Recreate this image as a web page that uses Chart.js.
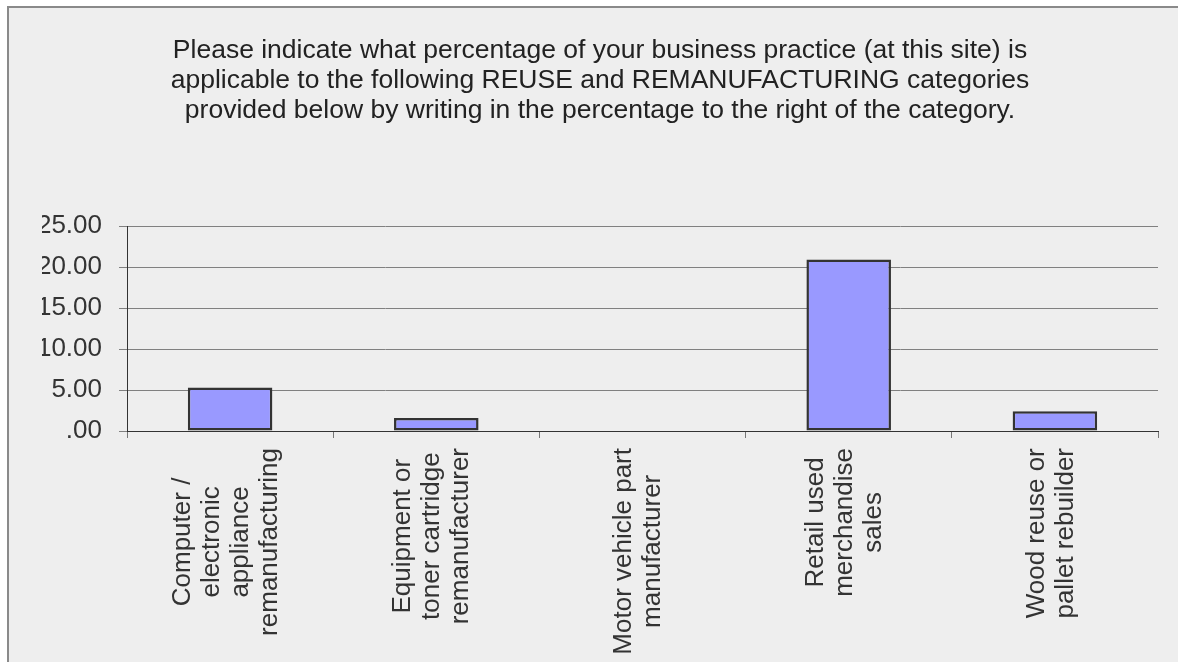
<!DOCTYPE html>
<html>
<head>
<meta charset="utf-8">
<script src="https://cdn.jsdelivr.net/npm/chart.js@4.4.0/dist/chart.umd.min.js"></script>
<style>
  html, body { margin: 0; padding: 0; background: #fff; }
  #frame {
    position: absolute; left: 7px; top: 6px; width: 1200px; height: 700px;
    background: #eeeeee; border-left: 2px solid #8a8a8a; border-top: 2px solid #8a8a8a;
  }
  #wrap { position: absolute; left: 0; top: 0; width: 1178px; height: 662px; }
</style>
</head>
<body>
<div id="frame"></div>
<div id="wrap"><canvas id="grafico"></canvas></div>
<script>
// categorias (cada linha do rótulo separada)
const categorias = [
  ['Computer /', 'electronic', 'appliance', 'remanufacturing'],
  ['Equipment or', 'toner cartridge', 'remanufacturer'],
  ['Motor vehicle part', 'manufacturer'],
  ['Retail used', 'merchandise', 'sales'],
  ['Wood reuse or', 'pallet rebuilder']
];

const valores = [5.3, 1.6, 0, 20.9, 2.4];

const eixoMax = 25;
const eixoPasso = 5;

const titulo = [
  'Please indicate what percentage of your business practice (at this site) is',
  'applicable to the following REUSE and REMANUFACTURING categories',
  'provided below by writing in the percentage to the right of the category.'
];

const fonte = '"Liberation Sans", Arial, sans-serif';
Chart.defaults.font.family = fonte;
Chart.defaults.color = '#333';

// desenha os rótulos do eixo x rotacionados, linhas centralizadas
const rotulosX = {
  id: 'rotulosX',
  afterDraw(chart) {
    const ctx = chart.ctx;
    const xs = chart.scales.x;
    ctx.save();
    ctx.font = '26px ' + fonte;
    ctx.fillStyle = '#333';
    ctx.textAlign = 'center';
    ctx.textBaseline = 'middle';
    categorias.forEach((linhas, i) => {
      const x = xs.getPixelForValue(i) - 4;
      const topo = xs.bottom + 10;
      let maxW = 0;
      linhas.forEach(t => { maxW = Math.max(maxW, ctx.measureText(t).width); });
      ctx.save();
      ctx.translate(x, topo);
      ctx.rotate(-Math.PI / 2);
      linhas.forEach((t, j) => {
        ctx.fillText(t, -maxW / 2, (j - (linhas.length - 1) / 2) * 29);
      });
      ctx.restore();
    });
    ctx.restore();
  }
};

const data = {
  labels: categorias.map(l => l.join(' ')),
  datasets: [{
    data: valores,
    backgroundColor: '#9999ff',
    borderColor: '#333333',
    borderWidth: 2.5,
    borderSkipped: false,
    categoryPercentage: 1,
    barPercentage: 0.41
  }]
};

const config = {
  type: 'bar',
  data: data,
  options: {
    responsive: true,
    maintainAspectRatio: false,
    animation: false,
    layout: { padding: { left: 42, right: 20, top: 0, bottom: 224 } },
    plugins: {
      legend: { display: false },
      tooltip: { enabled: false },
      title: {
        display: true,
        text: titulo,
        color: '#222',
        font: { size: 26.5, weight: 'normal', lineHeight: 30 / 26.5 },
        padding: { top: 36, bottom: 100 }
      }
    },
    scales: {
      x: {
        offset: true,
        ticks: { display: false },
        grid: { display: true, drawOnChartArea: false, offset: true, tickLength: 7, color: '#777' },
        border: { color: '#333', width: 1 }
      },
      y: {
        min: 0,
        max: eixoMax,
        ticks: {
          stepSize: eixoPasso,
          padding: 17,
          color: '#333',
          font: { size: 26 },
          callback: v => v.toFixed(2).replace(/^0/, '')
        },
        grid: { color: '#808080', tickLength: 8 },
        border: { color: '#333', width: 1 },
        afterFit(scale) { scale.width = 85; }
      }
    }
  },
  plugins: [rotulosX]
};

const grafico = new Chart(document.getElementById('grafico'), config);
</script>
</body>
</html>
